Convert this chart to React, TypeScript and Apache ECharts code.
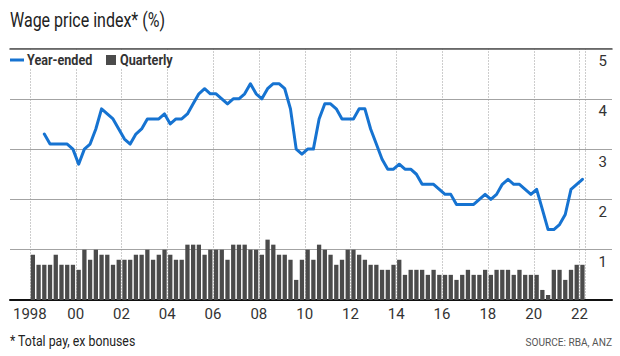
import React, { useEffect, useRef } from "react";
import * as echarts from "echarts";

const startYear = 1998;
const quarterCount = 97;

const quarterly = [
  0.9, 0.7, 0.7, 0.7, 0.9, 0.7, 0.7, 0.7,
  0.6, 1.0, 0.8, 1.0, 0.9, 0.9, 0.7, 0.8,
  0.8, 0.8, 0.9, 0.9, 1.0, 0.8, 0.9, 1.0,
  0.9, 0.8, 0.8, 1.1, 1.1, 1.1, 0.9, 1.0,
  1.0, 1.0, 0.8, 1.1, 1.1, 1.1, 1.0, 1.0,
  0.9, 1.2, 1.1, 0.9, 0.9, 0.8, 0.4, 0.8,
  1.0, 0.8, 1.1, 1.0, 0.9, 0.7, 0.8, 1.0,
  1.0, 0.9, 0.8, 0.7, 0.7, 0.6, 0.6, 0.7,
  0.8, 0.5, 0.6, 0.6, 0.6, 0.5, 0.6, 0.5,
  0.5, 0.5, 0.4, 0.5, 0.6, 0.5, 0.5, 0.6,
  0.5, 0.6, 0.6, 0.6, 0.5, 0.6, 0.5, 0.5,
  0.5, 0.2, 0.1, 0.6, 0.6, 0.4, 0.6, 0.7,
  0.7,
];

const yearEnded = [
  null, null, 3.3, 3.1, 3.1, 3.1, 3.1, 3.0,
  2.7, 3.0, 3.1, 3.4, 3.8, 3.7, 3.6, 3.4,
  3.2, 3.1, 3.3, 3.4, 3.6, 3.6, 3.6, 3.7,
  3.5, 3.6, 3.6, 3.7, 3.9, 4.1, 4.2, 4.1,
  4.1, 4.0, 3.9, 4.0, 4.0, 4.1, 4.3, 4.1,
  4.0, 4.2, 4.3, 4.3, 4.2, 3.8, 3.0, 2.9,
  3.0, 3.0, 3.6, 3.9, 3.9, 3.8, 3.6, 3.6,
  3.6, 3.8, 3.8, 3.4, 3.1, 2.8, 2.6, 2.6,
  2.7, 2.6, 2.6, 2.5, 2.3, 2.3, 2.3, 2.2,
  2.1, 2.1, 1.9, 1.9, 1.9, 1.9, 2.0, 2.1,
  2.0, 2.1, 2.3, 2.4, 2.3, 2.3, 2.2, 2.1,
  2.2, 1.8, 1.4, 1.4, 1.5, 1.7, 2.2, 2.3,
  2.4,
];

const categories: string[] = [];
for (let i = 0; i < quarterCount; i++) {
  const y = startYear + Math.floor(i / 4);
  categories.push(`${y}Q${(i % 4) + 1}`);
}

const titleText = "Wage price index* (%)";
const noteText = "* Total pay, ex bonuses";
const sourceText = "SOURCE: RBA, ANZ";
const lineName = "Year-ended";
const barName = "Quarterly";

const BLUE = "#1673d1";
const BAR = "#4b4b4b";
const FONT = "Roboto, 'Noto Sans', sans-serif";

export default function App() {
  const ref = useRef<HTMLDivElement>(null);
  useEffect(() => {
    if (!ref.current) return;
    const chart = echarts.init(ref.current, null, { renderer: "svg" });
    const gridTop = 48.5;
    const gridBottom = 56;
    chart.setOption({
      animation: false,
      backgroundColor: "#ffffff",
      textStyle: { fontFamily: FONT },
      grid: [
        { left: 10, right: 8, top: gridTop, bottom: gridBottom },
        { left: 30, width: 555.3, top: gridTop, bottom: gridBottom },
      ],
      xAxis: [
        {
          gridIndex: 0, type: "value", position: "bottom", min: 0, max: 1,
          axisLine: { show: true, lineStyle: { color: "#111", width: 2 } },
          axisTick: { show: false }, axisLabel: { show: false }, splitLine: { show: false },
        },
        {
          gridIndex: 0, type: "value", position: "top", min: 0, max: 1,
          axisLine: { show: true, lineStyle: { color: "#555", width: 1.6 } },
          axisTick: { show: false }, axisLabel: { show: false }, splitLine: { show: false },
        },
        {
          gridIndex: 1, type: "category", data: categories, boundaryGap: true,
          axisLine: { show: false }, axisTick: { show: false },
          splitLine: {
            show: true, interval: 7,
            lineStyle: { color: "#9a9a9a", width: 1, type: [1, 2] },
          },
          axisLabel: {
            interval: 7, margin: 6, color: "#333", fontSize: 15, fontFamily: FONT,
            padding: [0, 6, 0, 0],
            formatter: (v: string) => {
              const y = v.slice(0, 4);
              return y === String(startYear) ? y : y.slice(2);
            },
          },
        },
      ],
      yAxis: [
        {
          gridIndex: 0, type: "value", min: 0, max: 5, interval: 1, position: "right",
          axisLine: { show: false }, axisTick: { show: false },
          splitLine: { show: true, lineStyle: { color: "#a3a3a3", width: 1.2 } },
          axisLabel: {
            inside: true, margin: 5, color: "#333", fontSize: 15, fontFamily: FONT,
            verticalAlign: "top", padding: [5, 0, 0, 0],
            formatter: (v: number) => (v === 0 ? "" : String(v)),
          },
        },
        {
          gridIndex: 1, type: "value", min: 0, max: 5, show: false,
          splitLine: { show: false },
        },
      ],
      graphic: [
        {
          type: "text", x: 10, y: 10, scaleX: 0.8, z: 100,
          style: { text: titleText, font: `400 20px ${FONT}`, fill: "#222", textVerticalAlign: "top" },
        },
        { type: "rect", z: 99, shape: { x: 9, y: 51, width: 178, height: 18 }, style: { fill: "#fff" } },
        { type: "rect", z: 100, shape: { x: 10, y: 58.5, width: 14, height: 3 }, style: { fill: BLUE } },
        {
          type: "text", x: 27, y: 60, scaleX: 0.9, z: 100,
          style: { text: lineName, font: `700 14px ${FONT}`, fill: "#333", textVerticalAlign: "middle" },
        },
        { type: "rect", z: 100, shape: { x: 106, y: 55, width: 10, height: 10 }, style: { fill: BAR } },
        {
          type: "text", x: 120, y: 60, scaleX: 0.9, z: 100,
          style: { text: barName, font: `700 14px ${FONT}`, fill: "#333", textVerticalAlign: "middle" },
        },
        {
          type: "text", x: 10, y: 341, scaleX: 0.88, z: 100,
          style: { text: noteText, font: `400 14px ${FONT}`, fill: "#222", textVerticalAlign: "middle" },
        },
        {
          type: "text", x: 612, y: 342, scaleX: 0.88, z: 100,
          style: { text: sourceText, font: `400 11.5px ${FONT}`, fill: "#555", textAlign: "right", textVerticalAlign: "middle" },
        },
      ],
      series: [
        {
          name: barName, type: "bar", xAxisIndex: 2, yAxisIndex: 1,
          data: quarterly, barCategoryGap: "25%",
          itemStyle: { color: BAR }, silent: true,
        },
        {
          name: lineName, type: "line", xAxisIndex: 2, yAxisIndex: 1,
          data: yearEnded, showSymbol: false, connectNulls: false,
          lineStyle: { color: BLUE, width: 3, cap: "round", join: "round" },
          z: 5, silent: true,
        },
      ],
    });
    return () => chart.dispose();
  }, []);
  return <div ref={ref} style={{ width: 620, height: 356, position: "absolute", left: 0, top: 0 }} />;
}
